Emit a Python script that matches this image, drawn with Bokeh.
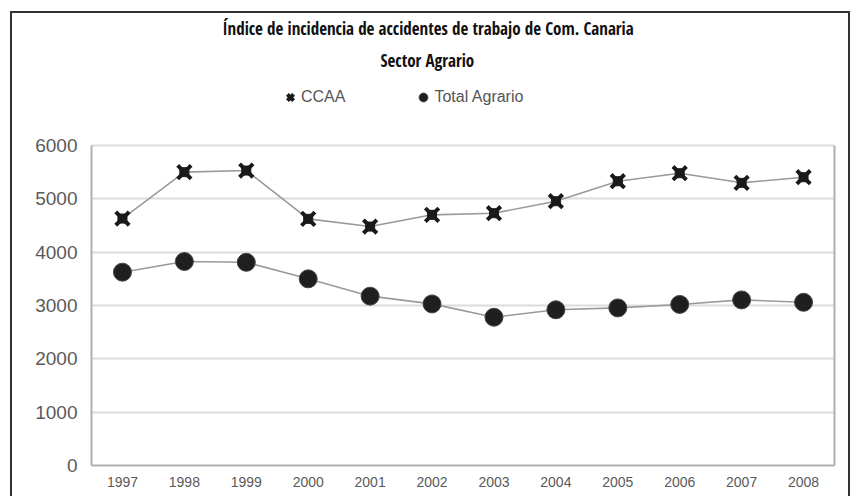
from bokeh.plotting import figure
from bokeh.models import (Range1d, FixedTicker, Legend, LegendItem, Title, LinearAxis,
                          ColumnDataSource)
from bokeh.embed import file_html
from bokeh.resources import INLINE

years = [1997, 1998, 1999, 2000, 2001, 2002, 2003, 2004, 2005, 2006, 2007, 2008]
ccaa = [4630, 5500, 5530, 4625, 4480, 4700, 4730, 4955, 5330, 5480, 5300, 5405]
total_agrario = [3625, 3825, 3810, 3500, 3175, 3030, 2780, 2920, 2955, 3020, 3105, 3060]
y_ticks = [0, 1000, 2000, 3000, 4000, 5000, 6000]
title_1 = "Índice de incidencia de accidentes de trabajo de Com. Canaria"
title_2 = "Sector Agrario"
series_names = ["CCAA", "Total Agrario"]

# frame spans y 78..465 on the page; 6000 sits at y 145 -> top of range leaves room for the legend
Y_TOP = y_ticks[-1] * (465 - 78) / 320

src = ColumnDataSource(dict(x=years, ccaa=ccaa, tot=total_agrario))

p = figure(width=840, height=485, output_backend="svg", toolbar_location=None,
           x_range=Range1d(years[0] - 0.5, years[-1] + 0.5), y_range=Range1d(0, Y_TOP),
           min_border_left=79, min_border_right=18, min_border_top=65, min_border_bottom=33)
p.styles = {"margin-left": "10px", "margin-top": "11px",
            "border-left": "2px solid #333333", "border-top": "2px solid #333333",
            "border-right": "2px solid #333333"}
p.outline_line_color = None
p.background_fill_color = "white"
p.border_fill_color = "white"

# grid
p.xgrid.grid_line_color = None
p.ygrid.grid_line_color = "#dcdcdc"
p.ygrid.grid_line_width = 2
p.ygrid.ticker = FixedTicker(ticks=y_ticks)

# axes
p.xaxis.ticker = FixedTicker(ticks=years)
p.yaxis.ticker = FixedTicker(ticks=y_ticks)
p.yaxis.bounds = (y_ticks[0], y_ticks[-1])
for ax in (p.xaxis[0], p.yaxis[0]):
    ax.axis_line_color = "#b0b0b0"
    ax.axis_line_width = 2
    ax.major_tick_line_color = None
    ax.minor_tick_line_color = None
    ax.major_label_text_color = "#5a5a5a"
    ax.major_label_text_font = "Liberation Sans"
p.yaxis.major_label_text_font_size = "19px"
p.yaxis.major_label_standoff = 8
p.xaxis.major_label_text_font_size = "14px"
p.xaxis.major_label_standoff = 5

right_ax = LinearAxis(ticker=FixedTicker(ticks=[]), bounds=(y_ticks[0], y_ticks[-1]),
                      axis_line_color="#b0b0b0", axis_line_width=2,
                      major_tick_line_color=None, minor_tick_line_color=None,
                      major_label_text_font_size="0px", major_label_standoff=0)
p.add_layout(right_ax, "right")

# series
p.line("x", "ccaa", source=src, line_color="#9a9a9a", line_width=1.6)
p.line("x", "tot", source=src, line_color="#9a9a9a", line_width=1.6)
r_x = p.scatter("x", "ccaa", source=src, marker="x", size=19, line_color="#1a1a1a", line_width=4)
r_sq = p.scatter("x", "ccaa", source=src, marker="square", size=9, fill_color="#1a1a1a", line_color="#1a1a1a")
r_c = p.scatter("x", "tot", source=src, marker="circle", size=18, fill_color="#1f1f1f", line_color="#444444", line_width=1)

legend = Legend(items=[LegendItem(label=series_names[0], renderers=[r_x]),
                       LegendItem(label=series_names[1], renderers=[r_c])],
                orientation="horizontal", location=(188, 357),
                glyph_width=22, glyph_height=22, label_standoff=0, spacing=67,
                padding=0, margin=0, border_line_color=None, background_fill_alpha=0,
                label_text_font="Liberation Sans", label_text_font_size="16px",
                label_text_color="#555555")
p.add_layout(legend)

# titles (later added = further from the plot)
p.add_layout(Title(text=title_2, align="left", offset=289, text_font="Open Sans Condensed",
                   text_font_style="bold", text_font_size="17px", text_color="#111111",
                   standoff=14), "above")
p.add_layout(Title(text=title_1, align="left", offset=131, text_font="Open Sans Condensed",
                   text_font_style="bold", text_font_size="17px", text_color="#111111",
                   standoff=0), "above")

open("out.html", "w").write(file_html(p, INLINE))
